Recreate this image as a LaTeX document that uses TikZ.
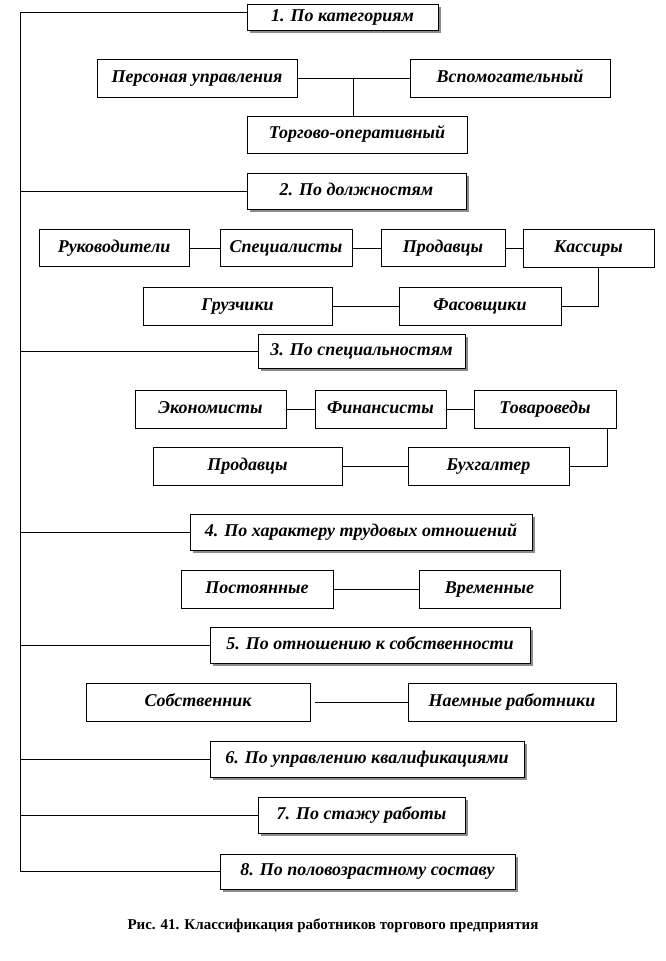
\documentclass[tikz,border=0pt]{standalone}
\usepackage{fontspec}
\setmainfont{Liberation Serif}
\usetikzlibrary{positioning, shadows, calc}

\begin{document}
\begin{tikzpicture}[
    x=1pt, y=-1pt,
    ln/.style={line width=0.8pt, draw=black},
    item/.style={rectangle, draw=black, line width=0.8pt, fill=white, align=center,
                 inner sep=0pt, text height=12pt, text depth=4pt,
                 font=\fontsize{18}{20}\selectfont\bfseries\itshape},
    cat/.style={item, drop shadow={shadow xshift=3pt, shadow yshift=-3pt, fill=black!45, opacity=1}}
]
\useasboundingbox (0,0) rectangle (666,961);

\node[cat, minimum width=191pt, minimum height=26pt] (c1) at (342.5,17) {1. По категориям};
\node[item, minimum width=200pt, minimum height=38pt] (pers) at (197,78) {Персоная управления};
\node[item, minimum width=200pt, minimum height=38pt] (vsp)  at (510,78) {Вспомогательный};
\node[item, minimum width=220pt, minimum height=37pt] (torg) at (357,134.5) {Торгово-оперативный};

\node[cat, minimum width=219pt, minimum height=36pt] (c2) at (356.5,191) {2. По должностям};
\node[item, minimum width=150pt, minimum height=37pt] (ruk)  at (114,248) {Руководители};
\node[item, minimum width=132pt, minimum height=37pt] (spec) at (286,248) {Специалисты};
\node[item, minimum width=124pt, minimum height=37pt] (prod) at (443,248) {Продавцы};
\node[item, minimum width=131pt, minimum height=38pt] (kas)  at (588.5,248) {Кассиры};
\node[item, minimum width=189pt, minimum height=38pt] (gruz) at (237.5,306) {Грузчики};
\node[item, minimum width=162pt, minimum height=38pt] (fas)  at (480,306) {Фасовщики};

\node[cat, minimum width=207pt, minimum height=34pt] (c3) at (361.5,351) {3. По специальностям};
\node[item, minimum width=151pt, minimum height=38pt] (ekon) at (210.5,409) {Экономисты};
\node[item, minimum width=131pt, minimum height=38pt] (fin)  at (380.5,409) {Финансисты};
\node[item, minimum width=142pt, minimum height=38pt] (tov)  at (545,409) {Товароведы};
\node[item, minimum width=189pt, minimum height=38pt] (prod2) at (247.5,466) {Продавцы};
\node[item, minimum width=161pt, minimum height=38pt] (buh)  at (488.5,466) {Бухгалтер};

\node[cat, minimum width=342pt, minimum height=36pt] (c4) at (361,532) {4. По характеру трудовых отношений};
\node[item, minimum width=152pt, minimum height=38pt] (post) at (257,589) {Постоянные};
\node[item, minimum width=141pt, minimum height=38pt] (vrem) at (489.5,589) {Временные};

\node[cat, minimum width=320pt, minimum height=36pt] (c5) at (370,645) {5. По отношению к собственности};
\node[item, minimum width=224pt, minimum height=38pt] (sobs) at (198,702) {Собственник};
\node[item, minimum width=208pt, minimum height=38pt] (naem) at (512,702) {Наемные работники};

\node[cat, minimum width=314pt, minimum height=36pt] (c6) at (367,759) {6. По управлению квалификациями};
\node[cat, minimum width=207pt, minimum height=36pt] (c7) at (361.5,815) {7. По стажу работы};
\node[cat, minimum width=295pt, minimum height=35pt] (c8) at (367.5,871.5) {8. По половозрастному составу};

\node[font=\fontsize{15}{17}\selectfont\bfseries] (cap) at (333,926) {Рис. 41. Классификация работников торгового предприятия};

\coordinate (top) at (20,12);
\coordinate (j1) at ($(pers.east)!0.5!(vsp.west)$);

\draw[ln] (top -| c1.west) -- (top) -- (top |- c8.west) -- (c8.west);
\foreach \c in {c2,c3,c4,c5,c6,c7}
    \draw[ln] (\c.west) -- (top |- \c.west);

\draw[ln] (pers) -- (vsp);
\draw[ln] (j1) -- (j1 |- torg.north);

\draw[ln] (ruk) -- (spec);
\draw[ln] (spec) -- (prod);
\draw[ln] (prod) -- (kas);
\draw[ln] ([xshift=9.5pt]kas.south) |- (fas.east);
\draw[ln] (gruz) -- (fas);

\draw[ln] (ekon) -- (fin);
\draw[ln] (fin) -- (tov);
\draw[ln] ([xshift=-9pt]tov.south east) |- (buh.east);
\draw[ln] (prod2) -- (buh);

\draw[ln] (post) -- (vrem);
\draw[ln] ([xshift=5pt]sobs.east) -- (naem);

\end{tikzpicture}
\end{document}
